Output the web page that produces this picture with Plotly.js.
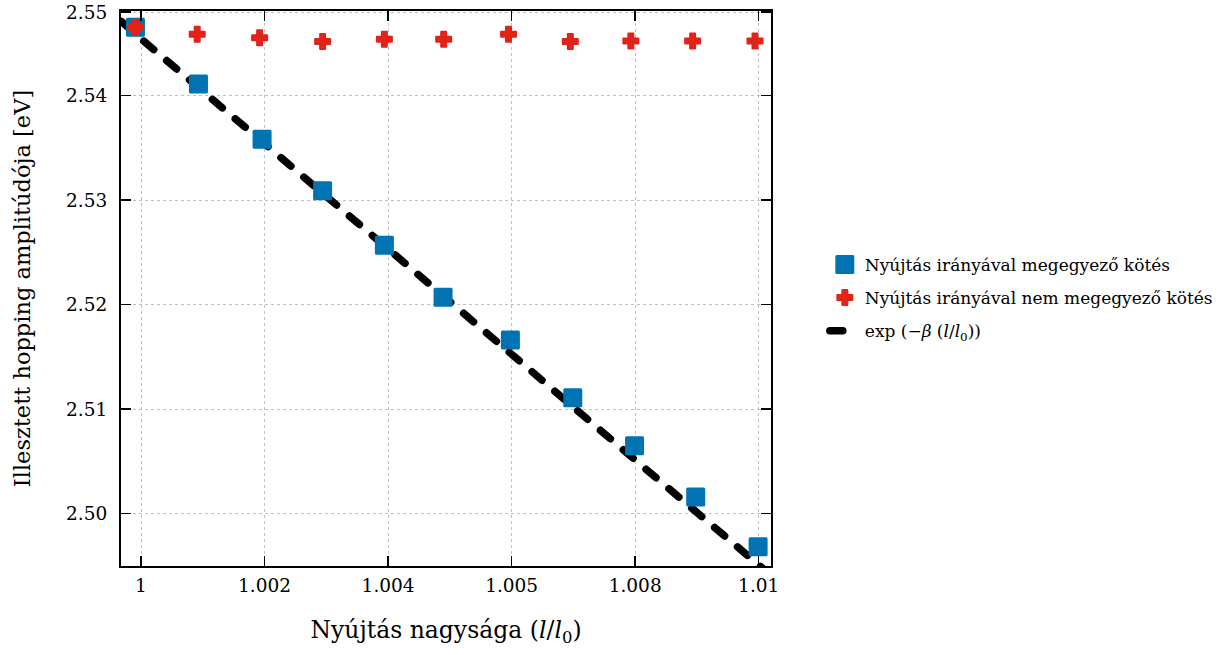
<!DOCTYPE html>
<html><head><meta charset="utf-8">
<script src="https://cdn.plot.ly/plotly-3.0.1.min.js"></script>
<style>
html,body{margin:0;padding:0;background:#fff;}
#chart{width:1226px;height:655px;}
.js-plotly-plot .scatterlayer .js-line, .js-plotly-plot .legend .legendlines path {stroke-linecap:round !important;}
.js-plotly-plot .scatterlayer path.point, .js-plotly-plot .legend .legendpoints path {stroke-linejoin:round !important;}
</style></head><body><div id="chart"></div>
<script>
// Data
const parallelX = [0.99991, 1.00093, 1.00196, 1.00294, 1.00394, 1.00489, 1.00598, 1.00699, 1.00799, 1.00898, 1.00999];
const parallelY = [2.54655, 2.54112, 2.53583, 2.53091, 2.52568, 2.52071, 2.51662, 2.51110, 2.50651, 2.50160, 2.49684];
const otherX = [0.99991, 1.00091, 1.00192, 1.00294, 1.00394, 1.00490, 1.00595, 1.00695, 1.00793, 1.00893, 1.00994];
const otherY = [2.54655, 2.54588, 2.54555, 2.54517, 2.54540, 2.54540, 2.54588, 2.54517, 2.54523, 2.54523, 2.54523];
const fitX = [0.99968, 1.000, 1.002, 1.004, 1.006, 1.008, 1.010, 1.0102];
const fitY = [2.54711, 2.54544, 2.53541, 2.52540, 2.51526, 2.50514, 2.49512, 2.49410];
const xTickVals = [1.000, 1.002, 1.004, 1.006, 1.008, 1.010];
const xTickText = ["1", "1.002", "1.004", "1.005", "1.008", "1.01"];
const yTickVals = [2.50, 2.51, 2.52, 2.53, 2.54, 2.548];
const yTickText = ["2.50", "2.51", "2.52", "2.53", "2.54", "2.55"];
const seriesNames = ["Nyújtás irányával megegyező kötés", "Nyújtás irányával nem megegyező kötés", "exp (−<i>β</i> (<i>l</i>/<i>l</i><sub>0</sub>))"];

const BLUE = "#0173b2", RED = "#e3221a";
const FONT = "DejaVu Serif";

const traces = [
  {x: fitX, y: fitY, mode: "lines", name: seriesNames[2], legendrank: 3, legendgroup: "c",
   line: {color: "#000", width: 7.5, dash: "13px,17px"}, hoverinfo: "skip"},
  {x: parallelX, y: parallelY, mode: "markers", name: seriesNames[0], legendrank: 1, legendgroup: "a",
   marker: {symbol: "square", size: 16, color: BLUE, line: {color: BLUE, width: 3}}},
  {x: otherX, y: otherY, mode: "markers", name: seriesNames[1], legendrank: 2, legendgroup: "b",
   marker: {symbol: "cross", size: 12.5, color: RED, line: {color: RED, width: 2}}}
];

const axisCommon = {
  showline: true, linecolor: "#000", linewidth: 2, mirror: "ticks",
  ticks: "inside", ticklen: 10, tickwidth: 1.5, tickcolor: "#000",
  showgrid: true, gridcolor: "#b0b0b0", gridwidth: 0.8, griddash: "dot",
  zeroline: false, tickfont: {family: FONT, size: 18.5, color: "#000"},
  tickmode: "array"
};

const layout = {
  width: 1226, height: 655,
  margin: {l: 121, r: 455, t: 11, b: 89, autoexpand: false},
  paper_bgcolor: "#fff", plot_bgcolor: "#fff",
  font: {family: FONT, color: "#000"},
  showlegend: true,
  legend: {x: 1.0828, xanchor: "left", y: 0.483, yanchor: "middle",
           font: {family: FONT, size: 17, color: "#000"}, tracegroupgap: 8,
           bgcolor: "rgba(0,0,0,0)"},
  xaxis: Object.assign({}, axisCommon, {
    range: [0.999676, 1.010199], tickvals: xTickVals, ticktext: xTickText,
    ticklabelstandoff: 2,
    title: {text: "Nyújtás nagysága (<i>l</i>/<i>l</i><sub>0</sub>)", font: {family: FONT, size: 23.5, color: "#000"}, standoff: 26}
  }),
  yaxis: Object.assign({}, axisCommon, {
    range: [2.4950, 2.5481], tickvals: yTickVals, ticktext: yTickText,
    ticklabelstandoff: 8,
    title: {text: "Illesztett hopping amplitúdója [eV]", font: {family: FONT, size: 22.5, color: "#000"}, standoff: 29}
  })
};

Plotly.newPlot("chart", traces, layout, {displayModeBar: false, staticPlot: true});
</script></body></html>
